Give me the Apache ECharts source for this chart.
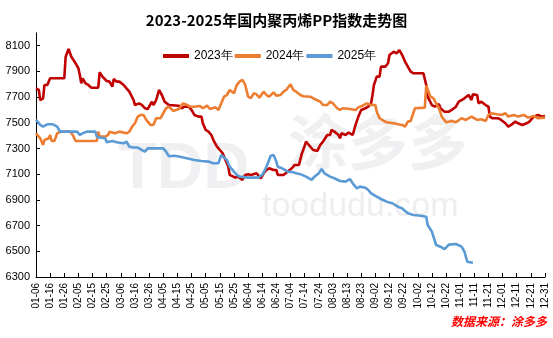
<!DOCTYPE html>
<html><head><meta charset="utf-8">
<script src="https://cdn.jsdelivr.net/npm/echarts@6/dist/echarts.min.js"></script>
<style>html,body{margin:0;padding:0;background:#fff}#c{width:553px;height:338px}</style>
</head><body><div id="c"></div>
<script>
var title = '2023-2025年国内聚丙烯PP指数走势图';
var seriesNames = ['2023年', '2024年', '2025年'];
var yTicks = [6300, 6500, 6700, 6900, 7100, 7300, 7500, 7700, 7900, 8100];

var dates2023 = ['01-06','01-08','01-09','01-11','01-12','01-14','01-16','01-26','01-27','01-29','01-31','02-03','02-05','02-06','02-07','02-08','02-10','02-12','02-14','02-19','02-20','02-22','02-25','02-27','02-29','03-01','03-03','03-05','03-08','03-10','03-12','03-15','03-16','03-19','03-21','03-23','03-25','03-28','03-29','03-31','04-02','04-04','04-06','04-09','04-10','04-16','04-18','04-20','04-23','04-25','04-27','04-30','05-02','05-03','05-05','05-07','05-09','05-11','05-13','05-15','05-17','05-19','05-21','05-22','05-26','05-28','05-31','06-02','06-04','06-06','06-10','06-13','06-15','06-17','06-19','06-22','06-24','06-25','06-29','07-02','07-05','07-07','07-10','07-11','07-12','07-13','07-15','07-17','07-20','07-23','07-25','07-27','07-30','08-01','08-02','08-04','08-07','08-08','08-09','08-12','08-14','08-17','08-19','08-21','08-23','08-26','08-28','08-30','08-31','09-01','09-03','09-05','09-06','09-09','09-11','09-12','09-15','09-17','09-19','09-21','09-23','09-25','09-27','09-29','10-06','10-08','10-09','10-12','10-14','10-17','10-18','10-21','10-24','10-26','10-29','10-31','11-02','11-04','11-07','11-09','11-10','11-13','11-14','11-16','11-19','11-21','11-22','11-24','11-28','11-30','12-03','12-05','12-07','12-10','12-12','12-15','12-18','12-20','12-23','12-26','12-29','12-31'];
var values2023 = [7768,7755,7677,7690,7794,7794,7846,7846,8014,8075,8014,7963,7924,7872,7807,7846,7807,7794,7773,7773,7893,7859,7825,7820,7781,7841,7820,7820,7794,7768,7742,7677,7638,7651,7638,7613,7607,7664,7638,7677,7755,7716,7664,7638,7633,7633,7613,7625,7625,7600,7561,7548,7548,7496,7444,7431,7405,7353,7314,7288,7263,7211,7158,7094,7073,7081,7055,7094,7099,7094,7107,7068,7107,7133,7146,7133,7133,7094,7094,7120,7146,7172,7172,7185,7260,7288,7353,7327,7288,7281,7327,7353,7405,7405,7444,7431,7405,7379,7418,7405,7424,7405,7483,7548,7600,7613,7625,7651,7716,7794,7859,7859,7937,7937,7963,8027,8053,8040,8066,8027,7976,7937,7898,7885,7885,7794,7703,7638,7625,7645,7613,7586,7586,7600,7625,7664,7677,7690,7716,7677,7721,7716,7651,7664,7638,7625,7548,7535,7535,7522,7496,7470,7483,7509,7496,7483,7496,7509,7548,7561,7548,7553];

var dates2024 = ['01-06','01-09','01-11','01-12','01-15','01-16','01-17','01-19','01-21','01-24','01-30','02-01','02-03','02-18','02-19','02-20','02-24','02-26','02-27','03-02','03-05','03-10','03-12','03-14','03-16','03-18','03-20','03-22','03-24','03-27','03-29','03-31','04-03','04-05','04-07','04-09','04-12','04-16','04-19','04-22','04-24','04-27','05-01','05-03','05-06','05-08','05-12','05-14','05-16','05-18','05-20','05-22','05-25','05-27','05-29','05-31','06-02','06-04','06-06','06-08','06-10','06-12','06-15','06-17','06-19','06-22','06-24','06-27','06-29','07-01','07-04','07-06','07-08','07-11','07-13','07-18','07-21','07-25','07-27','07-30','08-01','08-03','08-06','08-08','08-10','08-15','08-19','08-21','08-24','08-27','08-30','09-02','09-03','09-05','09-08','09-10','09-15','09-18','09-21','09-23','09-25','09-27','09-30','10-07','10-08','10-11','10-13','10-15','10-17','10-19','10-22','10-26','10-29','11-02','11-05','11-09','11-13','11-16','11-19','11-21','11-23','11-27','11-30','12-03','12-05','12-09','12-12','12-16','12-19','12-23','12-26','12-31'];
var values2024 = [7418,7379,7327,7366,7379,7405,7358,7358,7418,7431,7431,7405,7358,7358,7431,7392,7392,7405,7431,7418,7431,7418,7431,7470,7496,7548,7561,7561,7522,7483,7483,7535,7535,7574,7613,7625,7592,7607,7651,7638,7625,7625,7630,7613,7633,7607,7620,7600,7651,7703,7716,7755,7729,7794,7820,7833,7794,7703,7691,7729,7721,7695,7742,7716,7703,7737,7711,7716,7742,7755,7799,7755,7742,7716,7706,7703,7685,7664,7638,7638,7664,7651,7613,7600,7613,7607,7600,7620,7633,7651,7638,7638,7586,7535,7514,7504,7496,7488,7483,7470,7509,7514,7613,7618,7790,7703,7691,7651,7613,7548,7504,7514,7504,7535,7522,7548,7522,7527,7514,7561,7574,7566,7561,7574,7548,7561,7548,7561,7540,7553,7535,7540];

var dates2025 = ['01-06','01-09','01-11','01-14','01-18','01-21','01-23','02-04','02-06','02-08','02-11','02-17','02-18','02-21','02-24','02-25','02-29','03-03','03-08','03-10','03-12','03-15','03-18','03-21','03-23','03-25','04-05','04-07','04-09','04-13','04-17','04-20','04-24','04-27','05-02','05-07','05-10','05-14','05-16','05-17','05-20','05-22','05-25','05-27','05-29','06-04','06-11','06-14','06-16','06-18','06-20','06-22','06-24','06-25','06-28','06-30','07-02','07-06','07-08','07-11','07-15','07-19','07-21','07-24','07-26','07-28','08-01','08-04','08-08','08-12','08-15','08-17','08-20','08-22','08-26','08-28','08-30','09-03','09-06','09-10','09-14','09-16','09-18','09-21','09-23','09-25','09-29','10-04','10-08','10-09','10-12','10-15','10-18','10-21','10-24','10-29','11-02','11-04','11-06','11-10'];
var values2025 = [7522,7483,7470,7488,7488,7470,7431,7431,7405,7418,7431,7431,7392,7384,7379,7348,7358,7348,7340,7353,7314,7307,7307,7288,7275,7301,7301,7275,7240,7244,7236,7228,7218,7211,7203,7198,7185,7185,7249,7249,7211,7158,7120,7094,7081,7073,7073,7094,7133,7185,7244,7249,7198,7158,7146,7133,7120,7115,7107,7100,7081,7055,7081,7107,7140,7107,7081,7068,7047,7042,7062,7029,6990,7003,6995,6977,6951,6925,6907,6886,6874,6860,6847,6834,6814,6796,6782,6777,6769,6705,6653,6549,6536,6516,6552,6557,6536,6497,6419,6411];

// category axis: every day 01-06 .. 12-31 (calendar with Feb 29)
var categories = [];
(function(){
  var d = new Date(Date.UTC(2024, 0, 6));
  var end = Date.UTC(2024, 11, 31);
  while (d.getTime() <= end) {
    var m = d.getUTCMonth() + 1, day = d.getUTCDate();
    categories.push((m < 10 ? '0' : '') + m + '-' + (day < 10 ? '0' : '') + day);
    d = new Date(d.getTime() + 86400000);
  }
})();

function pairs(ds, vs){ return ds.map(function(x,i){ return [x, vs[i]]; }); }

var chart = echarts.init(document.getElementById('c'), null, {renderer:'canvas'});
var colors = ['#C00000', '#ED7D31', '#5B9BD5'];
var lineW = 2.6;
chart.setOption({
  animation: false,
  backgroundColor: '#fff',
  color: colors,
  title: {
    text: title, left: 'center', top: 8,
    textStyle: {fontFamily: '"Noto Sans CJK SC", sans-serif', fontSize: 15, fontWeight: 'bold', color: '#000'}
  },
  legend: {
    top: 45, left: 158, itemGap: 2, itemWidth: 26, itemHeight: 4, icon: 'rect',
    textStyle: {fontFamily: 'Liberation Sans, Arial, sans-serif', fontSize: 12, color: '#000'},
    data: seriesNames
  },
  graphic: [
    {type: 'text', left: 118, top: 138, z: -10, silent: true,
      style: {text: 'TDD', font: 'bold 64px "Liberation Sans", Arial, sans-serif', fill: '#f0f0f2'}},
    {type: 'text', left: 288, top: 112, z: -10, silent: true,
      style: {text: '涂多多', font: 'bold 60px "Noto Sans CJK SC", sans-serif', fill: '#f0f0f2'}},
    {type: 'text', left: 262, top: 190, z: -10, silent: true,
      style: {text: 'toodudu.com', font: '34px "Liberation Sans", Arial, sans-serif', fill: '#eeeef0'}},
    {type: 'text', right: 6, top: 315, silent: true,
      style: {text: '数据来源：涂多多', font: 'italic bold 12px "Noto Sans CJK SC", sans-serif', fill: '#FF0000'}}
  ],
  grid: {left: 36, right: 8, top: 32.8, bottom: 61, containLabel: false},
  xAxis: {
    type: 'category', data: categories, boundaryGap: false,
    axisLine: {lineStyle: {color: '#000', width: 1}},
    axisTick: {inside: true, length: 4, interval: 9, lineStyle: {color: '#000'}},
    axisLabel: {interval: 9, rotate: 90, margin: 6, fontSize: 10, color: '#000',
      fontFamily: 'Liberation Sans, Arial, sans-serif'},
    splitLine: {show: false}
  },
  yAxis: {
    type: 'value', min: 6300, max: 8200, interval: 200,
    axisLine: {show: true, lineStyle: {color: '#000', width: 1}},
    axisTick: {show: true, inside: true, length: 4, customValues: yTicks, lineStyle: {color: '#000'}},
    axisLabel: {customValues: yTicks, margin: 6, fontSize: 11, color: '#000',
      fontFamily: 'Liberation Sans, Arial, sans-serif',
      formatter: function(v){ return String(v); }},
    splitLine: {show: false}
  },
  series: [
    {name: seriesNames[0], type: 'line', data: pairs(dates2023, values2023), symbol: 'none', lineStyle: {width: lineW, color: colors[0]}},
    {name: seriesNames[1], type: 'line', data: pairs(dates2024, values2024), symbol: 'none', lineStyle: {width: lineW, color: colors[1]}},
    {name: seriesNames[2], type: 'line', data: pairs(dates2025, values2025), symbol: 'none', lineStyle: {width: lineW, color: colors[2]}}
  ]
});
</script></body></html>
